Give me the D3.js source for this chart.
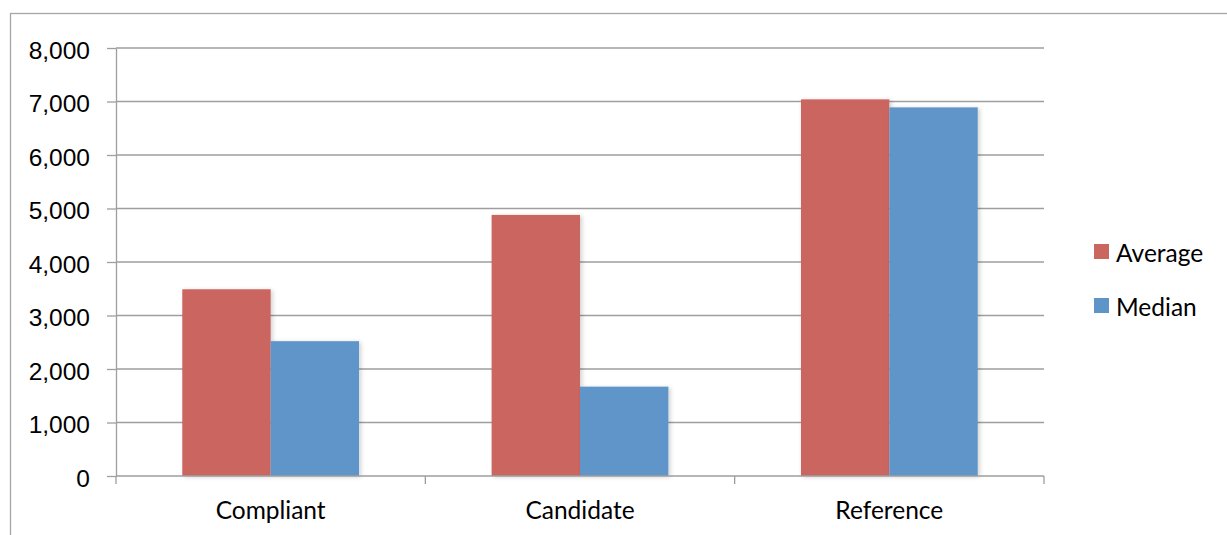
<!DOCTYPE html>
<html>
<head>
<meta charset="utf-8">
<script src="https://cdn.jsdelivr.net/npm/d3@7"></script>
<style>
  html, body { margin: 0; padding: 0; background: #fff; }
  svg { display: block; font-family: Lato, "Open Sans", sans-serif; }
</style>
</head>
<body>
<svg id="chart" width="1227" height="535"></svg>
<script>
// Chart data
const categories = ["Compliant", "Candidate", "Reference"];
const seriesNames = ["Average", "Median"];
const averageValues = [3490, 4880, 7040];
const medianValues = [2520, 1670, 6890];
const yTicks = [0, 1000, 2000, 3000, 4000, 5000, 6000, 7000, 8000];

const colors = { Average: "#CB6560", Median: "#5E95C8" };
const fontSize = 24.5;

const svg = d3.select("#chart");
const plot = { left: 116, right: 1044, top: 48, bottom: 476 };

// Outer chart-area border
svg.append("rect")
  .attr("x", 10.5).attr("y", 13.5)
  .attr("width", 1240).attr("height", 560)
  .attr("fill", "none").attr("stroke", "#A6A6A6").attr("stroke-width", 1.3);

// Soft shadow for the bars
const defs = svg.append("defs");
const f = defs.append("filter").attr("id", "shadow")
  .attr("x", "-10%").attr("y", "-10%").attr("width", "130%").attr("height", "130%");
f.append("feDropShadow").attr("dx", 2).attr("dy", 1).attr("stdDeviation", 2)
  .attr("flood-color", "#000").attr("flood-opacity", 0.18);

const x0 = d3.scaleBand().domain(categories).range([plot.left, plot.right]).paddingInner(0).paddingOuter(0);
const y = d3.scaleLinear().domain([0, 8000]).range([plot.bottom, plot.top]);

// Gridlines
svg.append("g").selectAll("line").data(yTicks.filter(d => d > 0)).join("line")
  .attr("x1", plot.left).attr("x2", plot.right)
  .attr("y1", d => y(d)).attr("y2", d => y(d))
  .attr("stroke", "#9E9E9E").attr("stroke-width", 1.3);

// Bars: gap width 150% of bar width
const groupW = x0.bandwidth();
const barW = groupW / 3.5;
const x1 = d3.scaleBand().domain(seriesNames)
  .range([barW * 0.75, barW * 0.75 + barW * 2]);

const rows = categories.map((c, i) => ({ cat: c, Average: averageValues[i], Median: medianValues[i] }));
const groups = svg.append("g").selectAll("g").data(rows).join("g")
  .attr("transform", d => `translate(${x0(d.cat)},0)`);
groups.selectAll("rect").data(d => seriesNames.map(s => ({ s, v: d[s] }))).join("rect")
  .attr("x", d => x1(d.s))
  .attr("y", d => y(d.v))
  .attr("width", x1.bandwidth())
  .attr("height", d => y(0) - y(d.v))
  .attr("fill", d => colors[d.s])
  .attr("filter", "url(#shadow)");

// Y axis
const yAxis = svg.append("g").attr("transform", `translate(${plot.left},0)`)
  .call(d3.axisLeft(y).tickValues(yTicks).tickFormat(d3.format(",")).tickSizeInner(9).tickSizeOuter(0).tickPadding(17));
yAxis.select(".domain").attr("stroke", "#9E9E9E").attr("stroke-width", 1.3);
yAxis.selectAll(".tick line").attr("stroke", "#9E9E9E").attr("stroke-width", 1.3);
yAxis.selectAll("text").attr("font-size", fontSize).attr("fill", "#000").attr("dy", "0.42em");

// X axis with boundary ticks between categories
const xAxis = svg.append("g").attr("transform", `translate(0,${plot.bottom})`);
xAxis.append("line").attr("x1", plot.left).attr("x2", plot.right)
  .attr("stroke", "#9E9E9E").attr("stroke-width", 1.3);
const bounds = categories.map(c => x0(c)).concat([plot.right]);
xAxis.selectAll("line.tk").data(bounds).join("line").attr("class", "tk")
  .attr("x1", d => d).attr("x2", d => d).attr("y1", 0).attr("y2", 8)
  .attr("stroke", "#9E9E9E").attr("stroke-width", 1.3);
xAxis.selectAll("text").data(categories).join("text")
  .attr("x", d => x0(d) + groupW / 2).attr("y", 43)
  .attr("text-anchor", "middle").attr("font-size", fontSize).attr("fill", "#000")
  .text(d => d);

// Legend
const legend = svg.append("g").selectAll("g").data(seriesNames).join("g")
  .attr("transform", (d, i) => `translate(1094,${244 + i * 54})`);
legend.append("rect").attr("width", 15).attr("height", 15).attr("fill", d => colors[d]);
legend.append("text").attr("x", 22).attr("y", 18).attr("font-size", fontSize).attr("fill", "#000").text(d => d);
</script>
</body>
</html>
